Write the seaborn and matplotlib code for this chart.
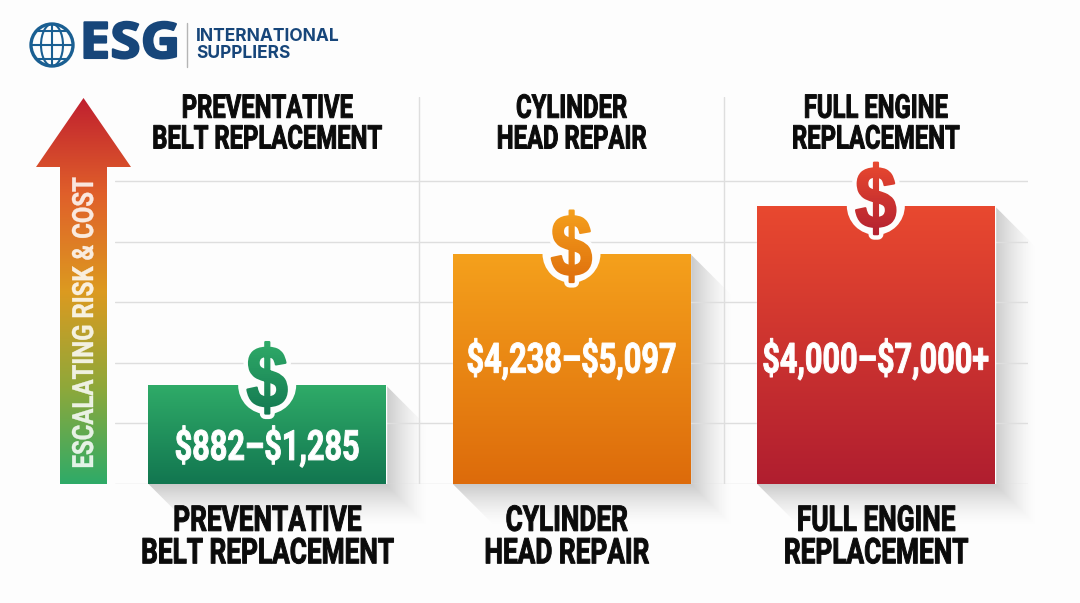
import matplotlib
matplotlib.use("Agg")
import matplotlib.pyplot as plt
import numpy as np
import pandas as pd
import seaborn as sns
from matplotlib.colors import LinearSegmentedColormap, to_rgba
from matplotlib.patches import Circle, Ellipse, Polygon
from matplotlib.patheffects import AbstractPathEffect
from matplotlib.transforms import Affine2D, Bbox, ScaledTranslation

# bar heights are in grid steps
repairs = ["Preventative Belt", "Cylinder Head", "Full Engine"]
heights = [1.63, 3.80, 4.59]
cost_labels = ["$882–$1,285", "$4,238–$5,097", "$4,000–$7,000+"]
top_labels = ["PREVENTATIVE\nBELT REPLACEMENT", "CYLINDER\nHEAD REPAIR", "FULL ENGINE\nREPLACEMENT"]
bottom_labels = ["PREVENTATIVE\nBELT REPLACEMENT", "CYLINDER\nHEAD REPAIR", "FULL ENGINE\nREPLACEMENT"]
grid_steps = [0, 1, 2, 3, 4, 5]
bar_tops = ["#2fab68", "#f5a11c", "#e9492f"]
bar_bottoms = ["#127650", "#dd6b0b", "#b01e30"]
label_levels = [0.61, 2.05, 2.05]
arrow_colors = ["#c0202f", "#e0602a", "#dc9a20", "#8fa83a", "#2fab68"]

NAVY = "#17467a"
PAPER = "#fdfdfd"
CONDENSED = ["Roboto", "DejaVu Sans"]
W, H = 1080, 603


def squeeze_about_centre(box, scale, vertical=False):
    cx, cy = box.x0 + box.width / 2, box.y0 + box.height / 2
    if vertical:
        return Affine2D().translate(0, -cy).scale(1, scale).translate(0, cy)
    return Affine2D().translate(-cx, 0).scale(scale, 1).translate(cx, 0)


class Condense(AbstractPathEffect):
    """Squeezes a text line around its centre and thickens the stems again."""

    def __init__(self, scale, fatten=0.0, vertical=False):
        super().__init__()
        self.scale = scale
        self.fatten = fatten
        self.vertical = vertical

    def draw_path(self, renderer, gc, tpath, affine, rgbFace=None):
        box = tpath.get_extents(affine)
        gc0 = renderer.new_gc()
        gc0.copy_properties(gc)
        gc0.set_linewidth(self.fatten)
        gc0.set_foreground(rgbFace)
        renderer.draw_path(gc0, tpath, affine + squeeze_about_centre(box, self.scale, self.vertical), rgbFace)
        gc0.restore()


class DollarFill(AbstractPathEffect):
    """Narrow dollar sign with a paper coloured halo and a vertical gradient."""

    def __init__(self, top, bottom, scale=0.85, halo=8.0, fatten=1.6, bands=40):
        super().__init__()
        self.cmap = LinearSegmentedColormap.from_list("g", [top, bottom])
        self.scale = scale
        self.halo = halo
        self.fatten = fatten
        self.bands = bands

    def draw_path(self, renderer, gc, tpath, affine, rgbFace=None):
        box = tpath.get_extents(affine)
        narrow = affine + squeeze_about_centre(box, self.scale)

        gc0 = renderer.new_gc()
        gc0.copy_properties(gc)
        gc0.set_linewidth(self.halo)
        gc0.set_foreground(PAPER)
        renderer.draw_path(gc0, tpath, narrow, to_rgba(PAPER))
        gc0.restore()

        edges = np.linspace(box.y1 + 3, box.y0 - 3, self.bands + 1)
        for i in range(self.bands):
            gc0 = renderer.new_gc()
            gc0.copy_properties(gc)
            gc0.set_clip_rectangle(Bbox([[box.x0 - 5, edges[i + 1]], [box.x1 + 5, edges[i]]]))
            gc0.set_linewidth(self.fatten)
            gc0.set_foreground(self.cmap(i / self.bands))
            renderer.draw_path(gc0, tpath, narrow, self.cmap(i / self.bands))
            gc0.restore()


sns.set_theme(style="whitegrid", rc={"grid.color": "#dedede", "grid.linewidth": 1.0})

fig = plt.figure(figsize=(W / 100, H / 100), dpi=100, facecolor=PAPER)

# backdrop in pixel coordinates: logo, arrow, bar shadows
back = fig.add_axes([0, 0, 1, 1], zorder=0)
back.set_axis_off()

ax = fig.add_axes([115 / W, 1 - 484 / H, 913 / W, 387 / H], zorder=1)
ax.patch.set_alpha(0)

df = pd.DataFrame({"repair": repairs, "height": heights})
sns.barplot(data=df, x="repair", y="height", hue="repair", palette=bar_tops, saturation=1,
            width=0.78, legend=False, ax=ax)
ax.set_xlim(-0.5, 2.5)
ax.set_ylim(0, 387 / 60.6)
ax.set_yticks(grid_steps)
ax.set_yticklabels([])
ax.set_xticks([0.5, 1.5], minor=True)
ax.grid(True, axis="y", which="major")
ax.grid(True, axis="x", which="minor")
ax.grid(False, axis="x", which="major")
ax.tick_params(axis="both", which="both", length=0)
ax.set_xlabel("")
ax.set_ylabel("")
sns.despine(ax=ax, left=True, bottom=True)
ax.set_axisbelow(True)

# bottom labels are the category ticks
ax.set_xticks(range(len(repairs)))
ax.set_xticklabels(bottom_labels, family=CONDENSED, weight="bold", fontsize=25.5, color="#0b0b0b", linespacing=0.98)
ax.tick_params(axis="x", which="major", pad=15)
for lab in ax.get_xticklabels():
    lab.set_path_effects([Condense(0.74, fatten=0.7)])
mid = ax.get_xticklabels()[1]
mid.set_transform(mid.get_transform() + ScaledTranslation(-5 / 100, 0, fig.dpi_scale_trans))

for i, bar in enumerate(ax.patches):
    x0, x1 = bar.get_x(), bar.get_x() + bar.get_width()
    top = bar.get_height()
    cmap = LinearSegmentedColormap.from_list("bar", [bar_tops[i], bar_bottoms[i]])

    # gradient body, clipped to the seaborn bar
    grad = ax.imshow(np.linspace(0, 1, 256)[:, None], cmap=cmap, extent=(x0, x1, 0, top), origin="upper",
                     aspect="auto", zorder=2)
    grad.set_clip_path(bar)
    bar.set_facecolor("none")

    # long soft shadow going down right
    (px0, py1), (px1, py0) = ax.transData.transform([(x0, 0), (x1, top)])
    py0, py1 = H - py0, H - py1
    reach = 42
    xs, ys = np.meshgrid(np.arange(px0, px1 + reach), np.arange(py0, py1 + reach))
    dist = np.maximum(np.clip(xs - px1, 0, None), np.clip(ys - py1, 0, None)) / reach
    rgba = np.zeros(xs.shape + (4,))
    rgba[..., :3] = 0.4
    rgba[..., 3] = 0.34 * (1 - dist) ** 1.5
    shade = back.imshow(rgba, extent=(px0, px1 + reach, py1 + reach, py0), origin="upper", aspect="auto")
    shade.set_clip_path(Polygon([(px1, py0), (px1 + reach, py0 + reach), (px1 + reach, py1 + reach),
                                 (px0 + reach, py1 + reach), (px0, py1)], transform=back.transData))

    # white notch and dollar sign
    notch = Circle((0, 0), 29, transform=Affine2D().translate((px0 + px1) / 2, H - py0),
                   facecolor=PAPER, edgecolor="none", zorder=3)
    ax.add_patch(notch)
    notch.set_clip_path(bar)
    ax.annotate("$", xy=(i, top), xytext=(0, 0.5), textcoords="offset points", ha="center", va="center",
                family=["Liberation Sans", "DejaVu Sans"], weight="bold", fontsize=63, zorder=4, parse_math=False,
                path_effects=[DollarFill(bar_tops[i], bar_bottoms[i])])

    ax.text(i, label_levels[i], cost_labels[i], ha="center", va="center", color="white", weight="bold",
            family=CONDENSED, fontsize=30, zorder=5, parse_math=False, path_effects=[Condense(0.735, fatten=0.7)])
    ax.text(i, 387 / 60.6 + 0.07, top_labels[i], ha="center", va="top", color="#0b0b0b", weight="bold",
            family=CONDENSED, fontsize=23.5, linespacing=0.95, zorder=5, clip_on=False,
            path_effects=[Condense(0.73, fatten=0.7)])

ax.set_xlim(-0.5, 2.5)
ax.set_ylim(0, 387 / 60.6)

# escalation arrow
arrow_cmap = LinearSegmentedColormap.from_list("arrow", arrow_colors)
arrow = back.imshow(np.linspace(0, 1, 256)[:, None], cmap=arrow_cmap, extent=(36, 131, 484, 98), origin="upper", aspect="auto")
arrow.set_clip_path(Polygon([(83.5, 98), (131, 167), (107, 167), (107, 484), (60, 484), (60, 167), (36, 167)],
                            transform=back.transData))
back.text(85, 323, "ESCALATING RISK & COST", rotation=90, ha="center", va="center", color="#ffffff", alpha=0.85,
          weight="bold", family=CONDENSED, fontsize=21, path_effects=[Condense(0.82, fatten=0.3, vertical=True)])

# logo
for shape in [Circle((52, 45), 21, fill=False, ec="#1a5f92", lw=2.4),
              Ellipse((52, 45), 22, 42, fill=False, ec="#1a5f92", lw=1.5)]:
    back.add_patch(shape)
back.plot([52, 52], [24, 66], color="#1a5f92", lw=1.5)
for level, half in zip([31, 45, 59], [15, 21, 15]):
    back.plot([52 - half, 52 + half], [level, level], color="#1a5f92", lw=1.5)
back.text(130, 45, "ESG", ha="center", va="center", family=["Open Sans", "DejaVu Sans"], weight="bold", fontsize=36,
          color=NAVY, path_effects=[Condense(1.1, fatten=1.5)])
back.plot([187, 187], [23, 67], color="#b5b5b5", lw=1)
back.text(196, 36.5, "INTERNATIONAL", ha="left", va="center", family=["Inter", "DejaVu Sans"], weight="bold", fontsize=12.5, color=NAVY)
back.text(196, 53.5, "SUPPLIERS", ha="left", va="center", family=["Inter", "DejaVu Sans"], weight="bold", fontsize=12.5, color=NAVY)

back.set_xlim(0, W)
back.set_ylim(H, 0)

fig.savefig("out.png", dpi=100, facecolor=fig.get_facecolor())
